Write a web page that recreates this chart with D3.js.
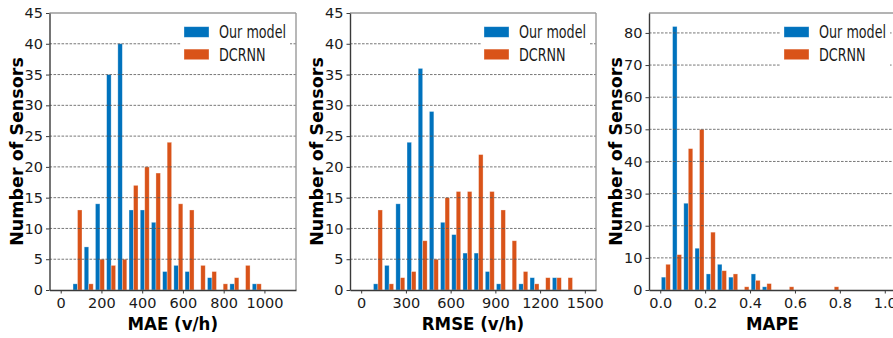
<!DOCTYPE html>
<html><head><meta charset="utf-8">
<script src="https://cdn.jsdelivr.net/npm/d3@7"></script>
<style>body{margin:0;background:#fff} svg{display:block}</style>
</head><body><svg id="c" width="893" height="338"></svg>
<script>
// ---- data ----
const seriesNames = ["Our model", "DCRNN"];
const seriesColors = ["#0072BD", "#D95319"];

// MAE histogram: 20 bins over [0, 1100]
const maeBinEdges = d3.range(0, 1101, 55);
const maeOur    = [0, 1, 7, 14, 35, 40, 13, 13, 11, 3, 4, 3, 0, 2, 0, 1, 0, 1, 0, 0];
const maeDcrnn  = [0, 13, 1, 5, 4, 5, 17, 20, 19, 24, 14, 13, 4, 3, 1, 2, 4, 1, 0, 0];
const maeTicks  = [0, 200, 400, 600, 800, 1000];

// RMSE histogram: 20 bins over [0, 1500]
const rmseBinEdges = d3.range(0, 1501, 75);
const rmseOur   = [0, 1, 4, 14, 24, 36, 29, 11, 9, 6, 6, 3, 1, 0, 1, 2, 0, 2, 0, 0];
const rmseDcrnn = [0, 13, 1, 2, 3, 8, 5, 15, 16, 16, 22, 16, 13, 8, 3, 1, 2, 2, 2, 0];
const rmseTicks = [0, 300, 600, 900, 1200, 1500];

// MAPE histogram: 20 bins over [0, 1.0]
const mapeBinEdges = d3.range(0, 21).map(i => i * 0.05);
const mapeOur   = [4, 82, 27, 13, 5, 8, 4, 0, 5, 1, 0, 0, 0, 0, 0, 0, 0, 0, 0, 0];
const mapeDcrnn = [8, 11, 44, 50, 18, 6, 5, 1, 3, 2, 0, 1, 0, 0, 0, 1, 0, 0, 0, 0];
const mapeTicks = [0, 0.2, 0.4, 0.6, 0.8, 1.0];

const countTicks45 = [0, 5, 10, 15, 20, 25, 30, 35, 40, 45];
const countTicks80 = [0, 10, 20, 30, 40, 50, 60, 70, 80];

// ---- layout ----
const svg = d3.select("#c");
const plotTop = 13, plotBottom = 290;
const panels = [
  {x0: 49.5, x1: 296, edges: maeBinEdges, series: [maeOur, maeDcrnn], xTicks: maeTicks, fmt: d3.format("d"),
   yMax: 45, yTicks: countTicks45, xLabel: "MAE (v/h)"},
  {x0: 350, x1: 596, edges: rmseBinEdges, series: [rmseOur, rmseDcrnn], xTicks: rmseTicks, fmt: d3.format("d"),
   yMax: 45, yTicks: countTicks45, xLabel: "RMSE (v/h)"},
  {x0: 649, x1: 896, edges: mapeBinEdges, series: [mapeOur, mapeDcrnn], xTicks: mapeTicks, fmt: d3.format(".1f"),
   yMax: 86.2, yTicks: countTicks80, xLabel: "MAPE"}
];

panels.forEach(p => {
  const lo = p.edges[0], hi = p.edges[p.edges.length - 1], m = (hi - lo) * 0.05;
  const x = d3.scaleLinear().domain([lo - m, hi + m]).range([p.x0, p.x1]);
  const y = d3.scaleLinear().domain([0, p.yMax]).range([plotBottom, plotTop]);
  const g = svg.append("g");

  // bars (matplotlib multi-dataset hist layout: 80% of bin, split in two)
  p.series.forEach((vals, si) => {
    g.append("g").selectAll("rect").data(vals.map((v, i) => ({v, a: p.edges[i], b: p.edges[i + 1]})).filter(d => d.v > 0))
      .join("rect")
      .attr("x", d => { const c = (d.a + d.b) / 2, w = d.b - d.a; return x(c - 0.4 * w + si * 0.4 * w); })
      .attr("width", d => { const w = d.b - d.a; return x(lo + 0.4 * w) - x(lo); })
      .attr("y", d => y(d.v))
      .attr("height", d => y(0) - y(d.v))
      .attr("fill", seriesColors[si])
      .attr("stroke", "rgba(255,255,255,0.45)")
      .attr("stroke-width", 0.7);
  });

  // gridlines
  g.append("g").selectAll("line").data(p.yTicks.filter(t => t > 0 && y(t) > plotTop + 1))
    .join("line")
    .attr("x1", p.x0).attr("x2", p.x1)
    .attr("y1", d => y(d)).attr("y2", d => y(d))
    .attr("stroke", "#555").attr("stroke-width", 0.8).attr("stroke-dasharray", "2.6,1.4");

  // spines
  g.append("line").attr("x1", p.x0).attr("x2", p.x1).attr("y1", plotTop).attr("y2", plotTop)
    .attr("stroke", "#9a9a9a").attr("stroke-width", 1.4);
  g.append("line").attr("x1", p.x1).attr("x2", p.x1).attr("y1", plotTop).attr("y2", plotBottom)
    .attr("stroke", "#9a9a9a").attr("stroke-width", 1.4);

  // axes
  const ax = g.append("g").attr("transform", `translate(0,${plotBottom})`)
    .call(d3.axisBottom(x).tickValues(p.xTicks).tickFormat(p.fmt).tickSize(3.5).tickSizeOuter(0).tickPadding(4));
  const ay = g.append("g").attr("transform", `translate(${p.x0},0)`)
    .call(d3.axisLeft(y).tickValues(p.yTicks).tickSize(3.5).tickSizeOuter(0).tickPadding(3));
  [ax, ay].forEach(a => {
    a.select(".domain").attr("stroke", "#3a3a3a").attr("stroke-width", 1.4);
    a.selectAll(".tick line").attr("stroke", "#3a3a3a").attr("stroke-width", 1);
    a.selectAll(".tick text").attr("font-family", "DejaVu Sans").attr("font-size", 14.5).attr("fill", "#1a1a1a");
  });

  // axis labels
  const cx = (p.x0 + p.x1) / 2;
  g.append("text").attr("transform", `translate(${cx},330) scale(0.9,1)`)
    .attr("text-anchor", "middle").attr("font-family", "DejaVu Sans").attr("font-weight", "bold")
    .attr("font-size", 18.5).attr("fill", "#000")
    .text(p.xLabel);
  g.append("text").attr("transform", `translate(${p.x0 - 33},${(plotTop + plotBottom) / 2}) rotate(-90)`)
    .attr("text-anchor", "middle").attr("dominant-baseline", "central")
    .attr("font-family", "DejaVu Sans").attr("font-weight", "bold").attr("font-size", 17.5).attr("fill", "#000")
    .text("Number of Sensors");

  // legend
  const lg = g.append("g");
  lg.append("rect").attr("x", p.x1 - 115).attr("y", 19).attr("width", 109).attr("height", 47).attr("fill", "#fff");
  seriesNames.forEach((n, i) => {
    const cy = 32 + i * 22.4;
    lg.append("rect").attr("x", p.x1 - 112).attr("y", cy - 5.3).attr("width", 25).attr("height", 10.6)
      .attr("fill", seriesColors[i]).attr("stroke", "rgba(255,255,255,0.45)").attr("stroke-width", 0.7);
    lg.append("text").attr("transform", `translate(${p.x1 - 77},${cy + 0.5}) scale(0.75,1)`)
      .attr("dominant-baseline", "central").attr("font-family", "DejaVu Sans").attr("font-size", 17)
      .attr("fill", "#1a1a1a").text(n);
  });
});
</script></body></html>
